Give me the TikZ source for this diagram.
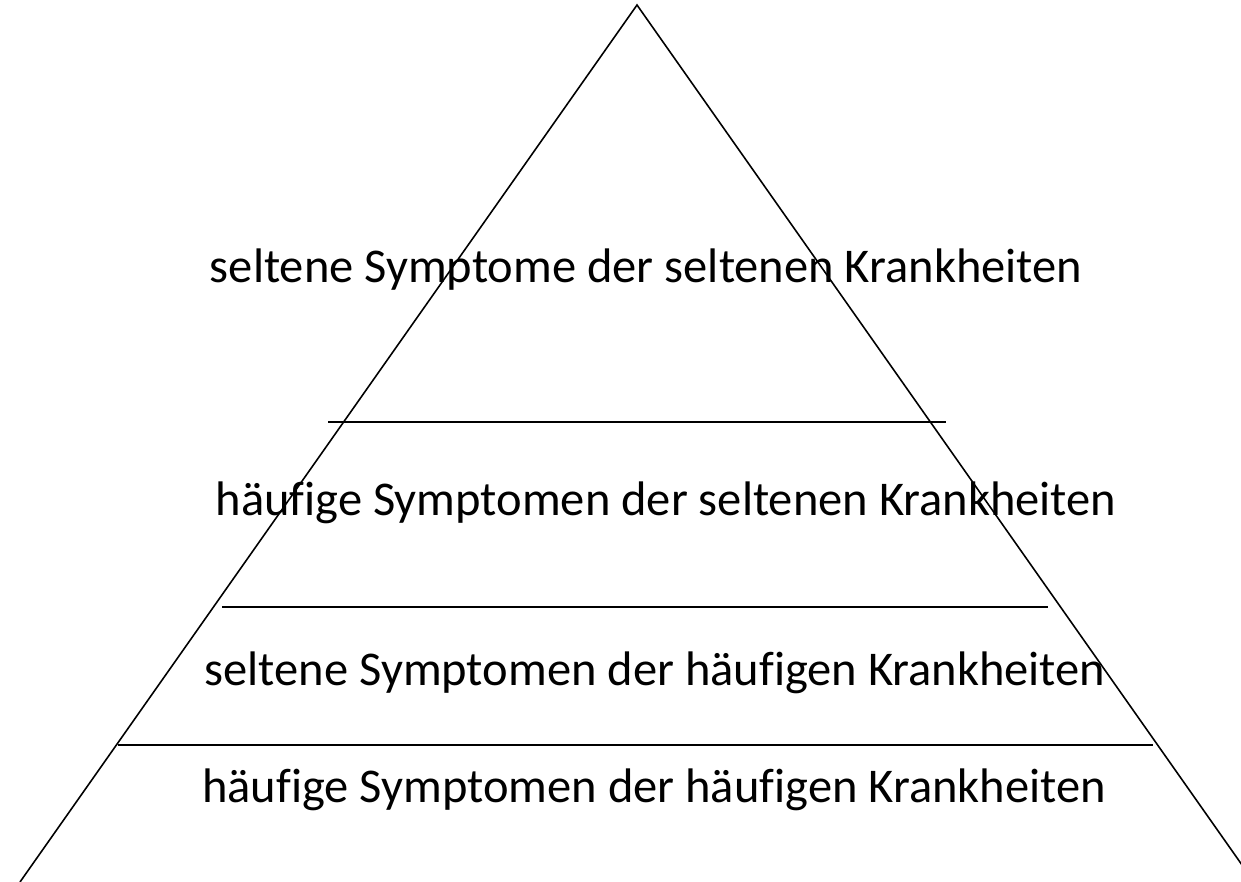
\documentclass[tikz,border=0pt]{standalone}
\usepackage{fontspec}
\setmainfont{Carlito}[Ligatures=NoCommon]
\begin{document}
\begin{tikzpicture}[x=0.02cm, y=-0.02cm, every node/.style={font=\fontsize{27.6}{32}\selectfont}]
\tikzstyle{level} = [inner sep=0pt, anchor=base]
\tikzstyle{divider} = [line width=0.9pt, draw=black]
\tikzstyle{side} = [line width=0.9pt, draw=black, line join=miter]

\useasboundingbox (0,0) rectangle (1241,882);

% Pyramid
\coordinate (apex) at (637,5);
\coordinate (baseL) at (20,882);
\coordinate (baseR) at (1254,882);
\begin{scope}
\clip (0,0) rectangle (1241,882);
\draw [side] (baseL) -- (apex) -- (baseR);
\end{scope}

% Dividers
\draw [divider] (328,422) -- (946,422);
\draw [divider] (222,607) -- (1048,607);
\draw [divider] (118,745) -- (1153,745);

% Labels
\node (top) [level] at (646,282) {seltene Symptome der seltenen Krankheiten};
\node (second) [level] at (666,515) {häufige Symptomen der seltenen Krankheiten};
\node (third) [level] at (655,685) {seltene Symptomen der häufigen Krankheiten};
\node (bottom) [level] at (654,802) {häufige Symptomen der häufigen Krankheiten};
\end{tikzpicture}
\end{document}
